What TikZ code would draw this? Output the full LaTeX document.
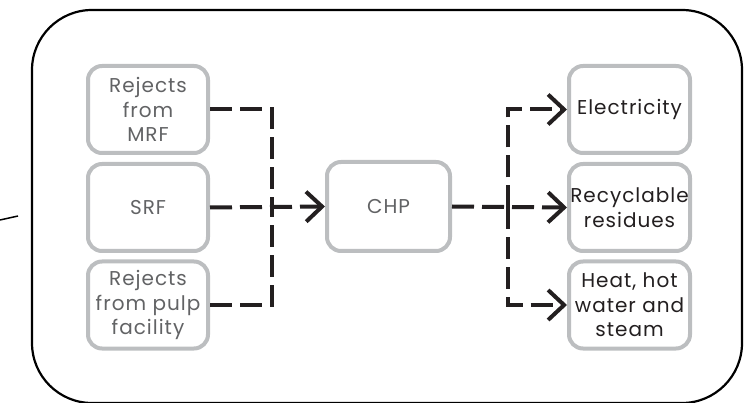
\documentclass[tikz,border=0pt]{standalone}
\usepackage{fontspec}
\setmainfont[LetterSpace=5]{Poppins}
\usetikzlibrary{arrows.meta}
\definecolor{boxgray}{HTML}{BCBEC0}
\definecolor{txtgray}{HTML}{626365}
\definecolor{txtdark}{HTML}{231F20}
\definecolor{linedark}{HTML}{231F20}
\tikzset{
  procbox/.style={draw=boxgray, line width=4pt, rounded corners=14pt, fill=white,
    minimum width=120pt, minimum height=87pt, align=center, inner sep=1pt,
    font=\fontsize{20}{24.5}\selectfont},
  inbox/.style={procbox, text=txtgray},
  outbox/.style={procbox, text=txtdark},
  flow/.style={draw=linedark, line width=4pt, dash pattern=on 22pt off 8pt},
  flowarrow/.style={flow, -{Straight Barb[length=16pt,width=30pt,line width=4pt]}},
}
\begin{document}
\begin{tikzpicture}[x=1pt,y=-1pt]
\useasboundingbox (0,0) rectangle (747,403);
\draw[line width=2.2pt, rounded corners=60pt] (32,10) rectangle (742,403);
\draw[line width=1.5pt] (0,220) -- (18,216);
\node[inbox] (mrf) at (148,109.5) {Rejects\\from\\MRF};
\node[inbox] (srf) at (148,207.5) {SRF};
\node[inbox] (pulp) at (148,305) {Rejects\\from pulp\\facility};
\node[inbox, minimum width=123pt, minimum height=89pt] (chp) at (388.5,206.5) {CHP};
\node[outbox, minimum width=121pt] (elec) at (629.5,109.5) {Electricity};
\node[outbox, minimum width=121pt] (rec) at (629.5,207.5) {Recyclable\\residues};
\node[outbox, minimum width=121pt] (heat) at (629.5,305) {Heat, hot\\water and\\steam};
\coordinate (jl) at (272,207.5);
\coordinate (jr) at (508,207.5);
\draw[flow] (mrf.east) -| (jl);
\draw[flow] (pulp.east) -| (jl);
\draw[flowarrow] (srf.east) -- (chp.west);
\draw[flowarrow] (chp.east) -- (rec.west);
\draw[flowarrow] (jr) |- (elec.west);
\draw[flowarrow] (jr) |- (heat.west);
\end{tikzpicture}
\end{document}
